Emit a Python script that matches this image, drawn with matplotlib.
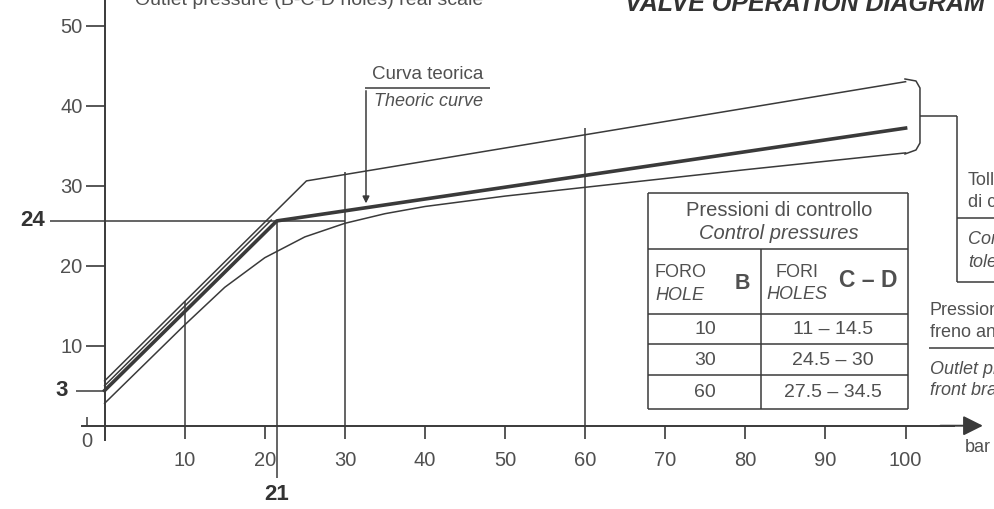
import numpy as np
import matplotlib
matplotlib.use('Agg')
import matplotlib.pyplot as plt

plt.rcParams['font.family'] = ['Liberation Sans', 'DejaVu Sans']

# Curve values (x: inlet bar, y: outlet bar)
upper_x = [0, 25.2, 100]
upper_y = [5.6, 30.6, 43.0]
theo_x = [0, 21.5, 100]
theo_y = [4.4, 25.6, 37.2]
pair_x = [0, 20.8]
pair_y = [5.0, 25.7]
lower_x = [0, 10, 15, 20, 25, 30, 35, 40, 50, 60, 80, 100]
lower_y = [2.8, 12.6, 17.3, 21.0, 23.6, 25.3, 26.5, 27.4, 28.7, 29.8, 32.0, 34.1]

guide_x = [10, 30, 60]
guide_top = [15.6, 31.7, 37.2]

yticks = [10, 20, 30, 40, 50]
xticks = [10, 20, 30, 40, 50, 60, 70, 80, 90, 100]
start_label = '3'
knee_y_label = '24'
knee_x_label = '21'

hole_b = ['10', '30', '60']
holes_cd = ['11 – 14.5', '24.5 – 30', '27.5 – 34.5']

LINE = '#3a3a3a'
TXT = '#505050'

fig = plt.figure(figsize=(9.94, 5.09), dpi=100)
ax = fig.add_axes([0, 0, 1, 1])
ax.set_xlim(-13.06, 111.04)
ax.set_ylim(-10.41, 53.21)
ax.patch.set_visible(False)


def px(x, y):
    # pixel position in the picture -> data coordinates
    return ((x - 104.6) / 8.01, (425.7 - y) / 8.0)


def seg(x1, y1, x2, y2, lw=1.1):
    a, b = px(x1, y1), px(x2, y2)
    ax.plot([a[0], b[0]], [a[1], b[1]], color=LINE, lw=lw, clip_on=False,
            solid_capstyle='butt')


def txt(x, y, s, **kw):
    kw.setdefault('color', TXT)
    kw.setdefault('va', 'center')
    ax.text(*px(x, y), s, clip_on=False, **kw)


# axes
for s in ['top', 'right']:
    ax.spines[s].set_visible(False)
ax.spines['left'].set_position(('data', 0))
ax.spines['left'].set_bounds(-1.8, 54)
ax.spines['bottom'].set_position(('data', 0))
ax.spines['bottom'].set_bounds(-2.8, 106)
for s in ['left', 'bottom']:
    ax.spines[s].set_color(LINE)
    ax.spines[s].set_linewidth(1.4)
ax.annotate('', xy=(110.0, 0), xytext=(104, 0),
            arrowprops=dict(arrowstyle='-|>', color=LINE, lw=1.4, mutation_scale=30))

ax.set_yticks(yticks)
ax.set_xticks(xticks)
ax.tick_params(axis='y', direction='out', length=14, width=1.2, pad=2,
               labelsize=14.5, color=LINE, labelcolor=TXT)
ax.tick_params(axis='x', direction='out', length=9.4, width=1.2, pad=9,
               labelsize=14.5, color=LINE, labelcolor=TXT)
ax.vlines(-2.2, 0, 1.1, color=LINE, lw=1.1)
txt(87, 441, '0', ha='center', fontsize=14.5)
txt(965, 447, 'bar', ha='left', fontsize=13)

# curves
ax.plot(upper_x, upper_y, color=LINE, lw=1.1)
ax.plot(lower_x, lower_y, color=LINE, lw=1.1)
ax.plot(pair_x, pair_y, color=LINE, lw=1.1)
ax.plot(theo_x, theo_y, color=LINE, lw=2.6)

# guide lines
ax.vlines(guide_x, 0, guide_top, color=LINE, lw=1.1)
ax.vlines(theo_x[1], -6.5, theo_y[1], color=LINE, lw=1.1)
ax.hlines(theo_y[1], px(50, 0)[0], 30, color=LINE, lw=1.1)
ax.hlines(theo_y[0], px(76, 0)[0], 0, color=LINE, lw=1.1)
ax.text(px(33, 0)[0], theo_y[1], knee_y_label, ha='center', va='center',
        fontsize=16, fontweight='bold', color='#333333')
ax.text(px(62, 0)[0], theo_y[0], start_label, ha='center', va='center',
        fontsize=16, fontweight='bold', color='#333333')
ax.text(theo_x[1], px(0, 494)[1], knee_x_label, ha='center', va='center',
        fontsize=16, fontweight='bold', color='#333333')

# theoretic curve callout
cx = px(366, 0)[0]
ax.annotate('', xy=(cx, np.interp(cx, theo_x, theo_y) + 0.2), xytext=(cx, px(0, 88)[1]),
            arrowprops=dict(arrowstyle='-|>', color=LINE, lw=1.1, mutation_scale=10))
seg(365, 88, 490, 88)
txt(372, 75, 'Curva teorica', fontsize=13.5)
txt(374, 102, 'Theoric curve', fontsize=13, style='italic')

# tolerance bracket
bx, by = zip(*[px(a, b) for a, b in
               [(905, 79), (916, 81), (920, 88), (920, 143), (916, 150), (905, 154)]])
ax.plot(bx, by, color=LINE, lw=1.1, clip_on=False)
seg(920, 116, 957, 116)
seg(957, 116, 957, 282)
seg(957, 218, 994, 218)
seg(957, 282, 994, 282)
txt(968, 181, 'Tolleranza', fontsize=13)
txt(968, 203, 'di controllo', fontsize=13)
txt(968, 240, 'Control', fontsize=13, style='italic')
txt(968, 262, 'tolerance', fontsize=13, style='italic')

txt(930, 310, 'Pressione', fontsize=13)
txt(930, 332, 'freno anteriore', fontsize=13)
seg(929, 348, 994, 348)
txt(930, 369, 'Outlet pressure', fontsize=13, style='italic')
txt(930, 390, 'front brake', fontsize=13, style='italic')

# control pressure table
tl, tr, tc = 648, 908, 761
for yy in [193, 249, 314, 344, 375, 409]:
    seg(tl, yy, tr, yy)
seg(tl, 193, tl, 409)
seg(tr, 193, tr, 409)
seg(tc, 249, tc, 409)
txt(779, 211, 'Pressioni di controllo', ha='center', fontsize=14.5)
txt(779, 234, 'Control pressures', ha='center', fontsize=14.5, style='italic')
txt(655, 272, 'FORO', fontsize=13)
txt(655, 295, 'HOLE', fontsize=13, style='italic')
txt(742, 283, 'B', ha='center', fontsize=15.5, fontweight='bold')
txt(776, 272, 'FORI', fontsize=13)
txt(766, 294, 'HOLES', fontsize=13, style='italic')
txt(868, 280, 'C – D', ha='center', fontsize=16.5, fontweight='bold')
for i, yy in enumerate([329, 360, 392]):
    txt(705, yy, hole_b[i], ha='center', fontsize=14)
    txt(833, yy, holes_cd[i], ha='center', fontsize=14)

# titles cut by the page edge
ax.text(*px(625, 11), 'VALVE OPERATION DIAGRAM', fontsize=18, fontweight='bold',
        style='italic', va='baseline', color='#333333', clip_on=False)
ax.text(*px(135, 5), 'Outlet pressure (B-C-D holes) real scale', fontsize=14,
        va='baseline', color=TXT, clip_on=False)

fig.savefig('out.png', dpi=100, facecolor='white')
